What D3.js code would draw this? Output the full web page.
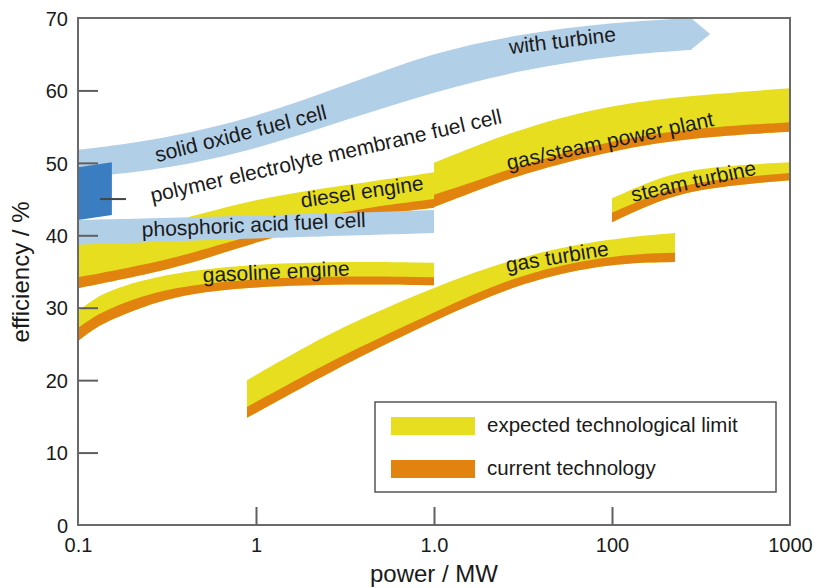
<!DOCTYPE html>
<html>
<head>
<meta charset="utf-8">
<script src="https://cdn.jsdelivr.net/npm/d3@7/dist/d3.min.js"></script>
<style>
  html, body { margin: 0; padding: 0; background: #fff; }
  svg { display: block; font-family: "Liberation Sans", Arial, Helvetica, sans-serif; }
</style>
</head>
<body>
<svg id="chart" width="815" height="588"></svg>
<script>
// ---- axis ticks ----
const powerTicks = [0.1, 1, 10, 100, 1000];
const powerTickLabels = ["0.1", "1", "1.0", "100", "1000"];
const efficiencyTicks = [0, 10, 20, 30, 40, 50, 60, 70];

// ---- combustion technologies: expected limit / current technology (efficiency %) ----
const gasolinePower   = [0.1, 0.12, 0.14, 0.2, 0.316, 0.7, 2.6, 10];
const gasolineLimit   = [29.5, 31.0, 32.0, 33.4, 34.6, 35.8, 36.4, 36.2];
const gasolineCurrent = [27.2, 28.6, 29.5, 31.1, 32.6, 33.8, 34.4, 34.2];
const gasolineLow     = [25.4, 26.9, 27.9, 29.5, 31.3, 32.7, 33.3, 33.1];

const dieselPower   = [0.1, 0.2, 0.374, 1, 3.16, 10];
const dieselLimit   = [39.0, 40.7, 42.1, 45.1, 46.9, 48.7];
const dieselCurrent = [34.2, 35.6, 37.0, 40.2, 43.5, 45.0];
const dieselLow     = [32.7, 34.2, 35.6, 39.1, 42.4, 43.8];

const combinedPower   = [10, 17.8, 31.6, 100, 316, 1000];
const combinedLimit   = [50.0, 52.5, 54.8, 58.1, 59.4, 60.3];
const combinedCurrent = [45.6, 47.6, 49.8, 53.2, 54.9, 55.6];
const combinedLow     = [43.9, 46.3, 48.5, 51.8, 53.6, 54.3];

const steamPower   = [100, 178, 316, 1000];
const steamLimit   = [45.1, 47.9, 49.4, 50.1];
const steamCurrent = [43.1, 45.8, 47.6, 48.6];
const steamLow     = [41.8, 44.7, 46.5, 47.6];

const gasTurbinePower   = [0.89, 1.77, 3.16, 10, 31.6, 100, 226];
const gasTurbineLimit   = [20.0, 24.2, 27.5, 32.9, 37.3, 39.6, 40.3];
const gasTurbineCurrent = [16.3, 20.3, 23.6, 29.4, 34.9, 37.3, 37.6];
const gasTurbineLow     = [14.8, 18.8, 22.2, 28.2, 33.7, 36.2, 36.3];

// ---- fuel cells (efficiency ranges, %) ----
const sofcPower  = [0.1, 0.29, 1, 3.16, 10, 30.4, 100, 281];
const sofcHigh   = [51.8, 53.2, 56.3, 60.7, 65.3, 67.8, 69.4, 70.0];
const sofcLow    = [47.9, 49.0, 51.8, 55.9, 59.8, 62.8, 64.8, 65.6];
const sofcTipPower = 356;
const sofcTipEff   = 67.8;

const pafcPower = [0.1, 1, 10];
const pafcHigh  = [42.1, 42.7, 43.5];
const pafcLow   = [38.7, 39.6, 40.3];

const pemPower = [0.1, 0.155, 0.155, 0.1];
const pemEff   = [49.4, 50.1, 42.8, 42.1];
const pemLeaderPower = [0.133, 0.186];
const pemLeaderEff   = 45;

// ---- layout ----
const plot = { left: 78, right: 790, top: 18, bottom: 525 };
const colors = {
  limit: "#e6de1e",
  current: "#e3830f",
  lightBlue: "#b2cfe8",
  darkBlue: "#3b7dc1",
  axis: "#5f5f5f",
  text: "#1a1a1a"
};

const svg = d3.select("#chart");

const x = d3.scaleLog().domain([0.1, 1000]).range([plot.left, plot.right]);
const y = d3.scaleLinear().domain([0, 70]).range([plot.bottom, plot.top]);

const rows = (p, a, b) => p.map((v, i) => ({ p: v, hi: a[i], lo: b[i] }));

const area = d3.area()
  .x(d => x(d.p))
  .y0(d => y(d.lo))
  .y1(d => y(d.hi))
  .curve(d3.curveBasis);

const bands = svg.append("g");

// combustion bands: yellow = expected limit, orange = current technology
const techs = [
  [gasTurbinePower, gasTurbineLimit, gasTurbineCurrent, gasTurbineLow],
  [gasolinePower, gasolineLimit, gasolineCurrent, gasolineLow],
  [dieselPower, dieselLimit, dieselCurrent, dieselLow],
  [combinedPower, combinedLimit, combinedCurrent, combinedLow],
  [steamPower, steamLimit, steamCurrent, steamLow]
];
techs.forEach(([p, lim, cur, low]) => {
  bands.append("path").attr("d", area(rows(p, lim, low))).attr("fill", colors.limit);
  bands.append("path").attr("d", area(rows(p, cur, low))).attr("fill", colors.current);
});

// phosphoric acid fuel cell
bands.append("path").attr("d", area(rows(pafcPower, pafcHigh, pafcLow))).attr("fill", colors.lightBlue);

// solid oxide fuel cell band ending in an arrow head
bands.append("path").attr("d", area(rows(sofcPower, sofcHigh, sofcLow))).attr("fill", colors.lightBlue);
const lastP = sofcPower[sofcPower.length - 1];
bands.append("path")
  .attr("d", d3.line()([
    [x(lastP) - 1, y(sofcHigh[sofcHigh.length - 1])],
    [x(sofcTipPower), y(sofcTipEff)],
    [x(lastP) - 1, y(sofcLow[sofcLow.length - 1])]
  ]) + "Z")
  .attr("fill", colors.lightBlue);

// polymer electrolyte membrane fuel cell
bands.append("path")
  .attr("d", d3.line()(pemPower.map((p, i) => [x(p), y(pemEff[i])])) + "Z")
  .attr("fill", colors.darkBlue);

// ---- frame and axes ----
const axisG = svg.append("g");
axisG.append("rect")
  .attr("x", plot.left).attr("y", plot.top)
  .attr("width", plot.right - plot.left).attr("height", plot.bottom - plot.top)
  .attr("fill", "none").attr("stroke", "#6a6a6a").attr("stroke-width", 2);

const yAxis = d3.axisLeft(y).tickValues(efficiencyTicks).tickSize(-20).tickPadding(30);
const yg = axisG.append("g").attr("transform", `translate(${plot.left},0)`).call(yAxis);
yg.select(".domain").remove();
yg.selectAll(".tick line").attr("stroke", colors.axis).attr("stroke-width", 2);
yg.selectAll(".tick text")
  .attr("x", -10).attr("dy", "0.36em")
  .attr("font-size", 20).attr("fill", colors.text)
  .style("font-family", "'Liberation Sans', Arial, sans-serif");
yg.selectAll(".tick").filter(d => d === 0 || d === 70).select("line").remove();

const xAxis = d3.axisBottom(x).tickValues(powerTicks)
  .tickFormat((d, i) => powerTickLabels[i]).tickSize(-18).tickPadding(12);
const xg = axisG.append("g").attr("transform", `translate(0,${plot.bottom})`).call(xAxis);
xg.select(".domain").remove();
xg.selectAll(".tick line").attr("stroke", colors.axis).attr("stroke-width", 2);
xg.selectAll(".tick").filter(d => d === 0.1 || d === 1000).select("line").remove();
xg.selectAll(".tick text")
  .attr("y", 27).attr("dy", 0)
  .attr("font-size", 20).attr("fill", colors.text)
  .style("font-family", "'Liberation Sans', Arial, sans-serif");

// leader line for the PEM label
svg.append("line")
  .attr("x1", x(pemLeaderPower[0])).attr("x2", x(pemLeaderPower[1]))
  .attr("y1", y(pemLeaderEff)).attr("y2", y(pemLeaderEff))
  .attr("stroke", "#444").attr("stroke-width", 2);

// ---- band labels ----
const labels = [
  { text: "with turbine", p: 26.7, e: 65.0, angle: -7 },
  { text: "solid oxide fuel cell", p: 0.278, e: 50.1, angle: -14.3 },
  { text: "polymer electrolyte membrane fuel cell", p: 0.261, e: 44.5, angle: -12.8 },
  { text: "phosphoric acid fuel cell", p: 0.229, e: 39.8, angle: -2.5 },
  { text: "diesel engine", p: 1.81, e: 43.8, angle: -8.3 },
  { text: "gasoline engine", p: 0.504, e: 33.5, angle: -2.7 },
  { text: "gas/steam power plant", p: 26.1, e: 49.0, angle: -12.1 },
  { text: "steam turbine", p: 131, e: 44.6, angle: -12.5 },
  { text: "gas turbine", p: 25.7, e: 34.9, angle: -9.4 }
];
svg.append("g").selectAll("text").data(labels).join("text")
  .attr("transform", d => `translate(${x(d.p)},${y(d.e)}) rotate(${d.angle})`)
  .attr("font-size", 21).attr("fill", colors.text)
  .text(d => d.text);

// ---- axis titles ----
svg.append("text")
  .attr("x", (plot.left + plot.right) / 2).attr("y", 582)
  .attr("text-anchor", "middle").attr("font-size", 24).attr("fill", colors.text)
  .text("power / MW");
svg.append("text")
  .attr("transform", `translate(29,${272}) rotate(-90)`)
  .attr("text-anchor", "middle").attr("font-size", 24).attr("fill", colors.text)
  .text("efficiency / %");

// ---- legend ----
const legend = svg.append("g");
legend.append("rect")
  .attr("x", 375).attr("y", 402).attr("width", 401).attr("height", 90)
  .attr("fill", "#fff").attr("stroke", "#555").attr("stroke-width", 1.5);
const legendItems = [
  { label: "expected technological limit", color: colors.limit },
  { label: "current technology", color: colors.current }
];
legendItems.forEach((d, i) => {
  legend.append("rect")
    .attr("x", 391).attr("y", 417 + i * 43).attr("width", 84).attr("height", 18)
    .attr("fill", d.color);
  legend.append("text")
    .attr("x", 487).attr("y", 432 + i * 43)
    .attr("font-size", 20.5).attr("fill", colors.text)
    .text(d.label);
});
</script>
</body>
</html>
